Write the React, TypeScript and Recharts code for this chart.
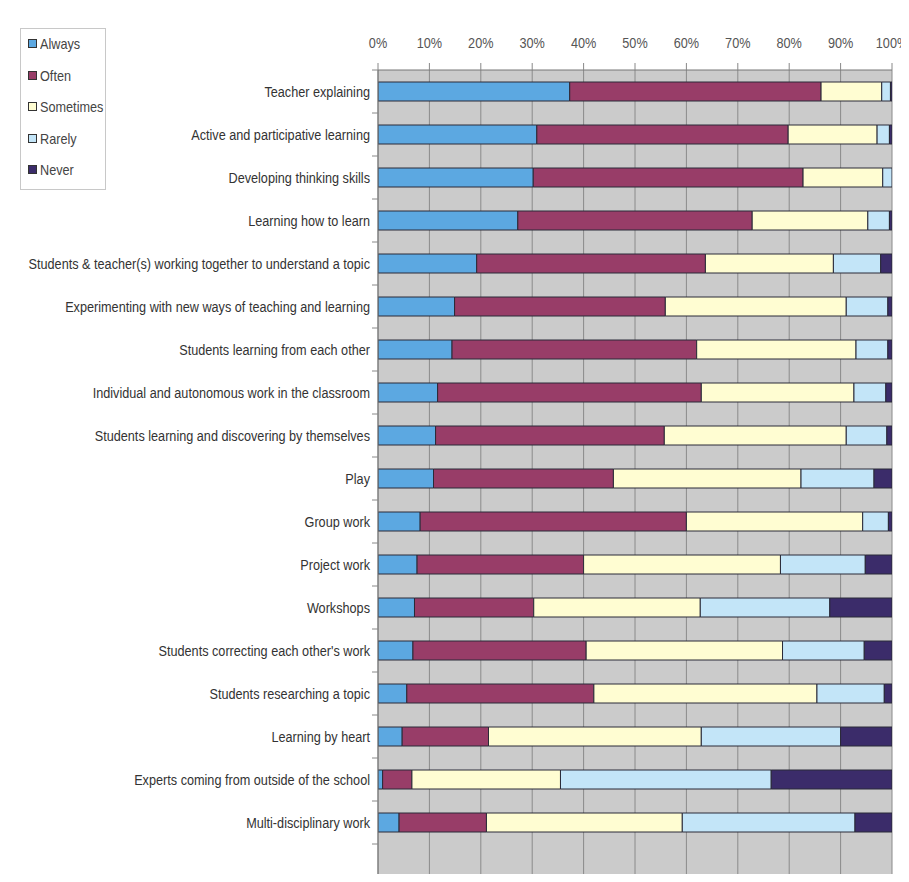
import { BarChart, Bar, XAxis, YAxis, CartesianGrid } from 'recharts'

const CATEGORIES = [
  'Teacher explaining',
  'Active and participative learning',
  'Developing thinking skills',
  'Learning how to learn',
  'Students & teacher(s) working together to understand a topic',
  'Experimenting with new ways of teaching and learning',
  'Students learning from each other',
  'Individual and autonomous work in the classroom',
  'Students learning and discovering by themselves',
  'Play',
  'Group work',
  'Project work',
  'Workshops',
  "Students correcting each other's work",
  'Students researching a topic',
  'Learning by heart',
  'Experts coming from outside of the school',
  'Multi-disciplinary work',
]

const ALWAYS = [37.3, 30.9, 30.2, 27.2, 19.2, 14.9, 14.4, 11.6, 11.2, 10.8, 8.2, 7.6, 7.1, 6.8, 5.6, 4.7, 0.9, 4.1]
const OFTEN = [48.9, 48.9, 52.5, 45.6, 44.5, 41.0, 47.6, 51.3, 44.5, 35.0, 51.8, 32.4, 23.2, 33.7, 36.4, 16.8, 5.7, 17.0]
const SOMETIMES = [11.8, 17.3, 15.5, 22.5, 24.9, 35.2, 31.0, 29.7, 35.4, 36.5, 34.3, 38.3, 32.4, 38.2, 43.4, 41.4, 28.9, 38.1]
const RARELY = [1.7, 2.4, 1.8, 4.2, 9.2, 8.1, 6.2, 6.2, 7.9, 14.2, 5.0, 16.5, 25.2, 15.9, 13.1, 27.1, 41.0, 33.6]
const NEVER = [0.3, 0.5, 0, 0.5, 2.2, 0.8, 0.8, 1.2, 1.0, 3.5, 0.7, 5.2, 12.1, 5.4, 1.5, 10.0, 23.5, 7.2]

const X_TICKS = [0, 10, 20, 30, 40, 50, 60, 70, 80, 90, 100]

const SERIES = [
  { key: 'always', label: 'Always', color: '#5ca8e1' },
  { key: 'often', label: 'Often', color: '#983d68' },
  { key: 'sometimes', label: 'Sometimes', color: '#fffdd2' },
  { key: 'rarely', label: 'Rarely', color: '#c3e5f8' },
  { key: 'never', label: 'Never', color: '#3b2c6a' },
]

// one blank row at the end so the grey plot runs off the page like the scan
const data = [
  ...CATEGORIES.map((name, i) => ({
    name,
    always: ALWAYS[i],
    often: OFTEN[i],
    sometimes: SOMETIMES[i],
    rarely: RARELY[i],
    never: NEVER[i],
  })),
  { name: '', always: 0, often: 0, sometimes: 0, rarely: 0, never: 0 },
]

// no narrow font installed, so squeeze Liberation Sans horizontally
const FONT = "'Liberation Sans', Arial, sans-serif"
const SQUEEZE = 0.845
const ROW = 43

const YTick = ({ x, y, payload }: any) => (
  <g>
    <text
      transform={`translate(${x},${y}) scale(${SQUEEZE},1)`}
      dy={5}
      textAnchor="end"
      fill="#333"
      fontSize={15}
      fontFamily={FONT}
    >
      {payload.value}
    </text>
    <line x1={x + 2} x2={x + 8} y1={y - ROW / 2} y2={y - ROW / 2} stroke="#888" />
  </g>
)

const XTick = ({ x, y, payload }: any) => (
  <text
    transform={`translate(${x},${y}) scale(${SQUEEZE},1)`}
    textAnchor="middle"
    fill="#555"
    fontSize={15}
    fontFamily={FONT}
  >
    {`${payload.value}%`}
  </text>
)

export default function App() {
  return (
    <div style={{ position: 'relative', margin: -8, width: 909, height: 882, overflow: 'hidden', background: '#fff' }}>
      <div style={{ position: 'absolute', left: 8, top: 6, width: 893, height: 2, background: '#888' }} />

      <div
        style={{
          position: 'absolute',
          left: 20,
          top: 28,
          width: 84,
          height: 160,
          border: '1px solid #c8c8c8',
          fontFamily: FONT,
          fontSize: 15,
          color: '#444',
        }}
      >
        {SERIES.map((s, i) => (
          <div key={s.key} style={{ position: 'absolute', left: 7, top: 6 + i * 31.5, display: 'flex', alignItems: 'center' }}>
            <span style={{ width: 7, height: 7, background: s.color, border: '1px solid #333', marginRight: 3 }} />
            <span style={{ display: 'inline-block', transform: `scaleX(${SQUEEZE})`, transformOrigin: 'left center', whiteSpace: 'nowrap' }}>
              {s.label}
            </span>
          </div>
        ))}
      </div>

      <div style={{ position: 'absolute', left: 0, top: 0 }}>
        <BarChart
          width={909}
          height={900}
          data={data}
          layout="vertical"
          barSize={19}
          margin={{ top: 30, right: 17, bottom: 13, left: 0 }}
        >
          <CartesianGrid fill="#cbcbcb" stroke="#8a8a8a" horizontal={false} />
          <XAxis
            type="number"
            orientation="top"
            domain={[0, 100]}
            ticks={X_TICKS}
            height={40}
            tickSize={7}
            tickMargin={15}
            tick={<XTick />}
            tickLine={{ stroke: '#888' }}
            axisLine={{ stroke: '#777' }}
            allowDataOverflow
          />
          <YAxis
            type="category"
            dataKey="name"
            width={378}
            interval={0}
            tick={<YTick />}
            tickLine={false}
            axisLine={{ stroke: '#777' }}
          />
          {SERIES.map((s) => (
            <Bar
              key={s.key}
              dataKey={s.key}
              name={s.label}
              stackId="a"
              fill={s.color}
              stroke="#2a2a38"
              strokeWidth={1}
              isAnimationActive={false}
            />
          ))}
        </BarChart>
      </div>
    </div>
  )
}
